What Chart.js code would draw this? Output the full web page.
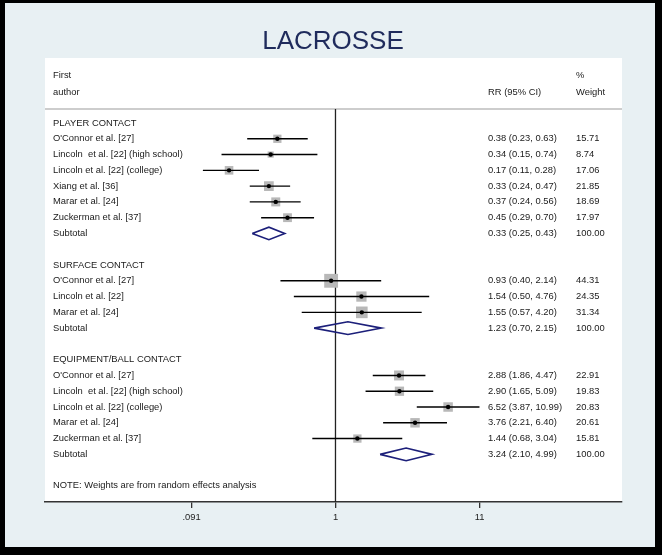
<!DOCTYPE html>
<html>
<head>
<meta charset="utf-8">
<script src="https://cdn.jsdelivr.net/npm/chart.js@4.4.1/dist/chart.umd.min.js"></script>
<style>
  html, body { margin: 0; padding: 0; background: #000; }
  canvas { display: block; }
</style>
</head>
<body>
<canvas id="forest" width="662" height="555"></canvas>
<script>
const titleText = 'LACROSSE';

const playerTitle = 'PLAYER CONTACT';
const playerStudies = ["O'Connor et al. [27]", "Lincoln  et al. [22] (high school)", "Lincoln et al. [22] (college)", "Xiang et al. [36]", "Marar et al. [24]", "Zuckerman et al. [37]"];
const playerRR = [0.38, 0.34, 0.17, 0.33, 0.37, 0.45];
const playerLo = [0.23, 0.15, 0.11, 0.24, 0.24, 0.29];
const playerHi = [0.63, 0.74, 0.28, 0.47, 0.56, 0.70];
const playerWeight = [15.71, 8.74, 17.06, 21.85, 18.69, 17.97];
const playerSubtotal = [0.33, 0.25, 0.43];

const surfaceTitle = 'SURFACE CONTACT';
const surfaceStudies = ["O'Connor et al. [27]", "Lincoln et al. [22]", "Marar et al. [24]"];
const surfaceRR = [0.93, 1.54, 1.55];
const surfaceLo = [0.40, 0.50, 0.57];
const surfaceHi = [2.14, 4.76, 4.20];
const surfaceWeight = [44.31, 24.35, 31.34];
const surfaceSubtotal = [1.23, 0.70, 2.15];

const equipTitle = 'EQUIPMENT/BALL CONTACT';
const equipStudies = ["O'Connor et al. [27]", "Lincoln  et al. [22] (high school)", "Lincoln et al. [22] (college)", "Marar et al. [24]", "Zuckerman et al. [37]"];
const equipRR = [2.88, 2.90, 6.52, 3.76, 1.44];
const equipLo = [1.86, 1.65, 3.87, 2.21, 0.68];
const equipHi = [4.47, 5.09, 10.99, 6.40, 3.04];
const equipWeight = [22.91, 19.83, 20.83, 20.61, 15.81];
const equipSubtotal = [3.24, 2.10, 4.99];

const tickValues = [0.091, 1, 11];
const tickLabels = ['.091', '1', '11'];
const noteText = 'NOTE: Weights are from random effects analysis';

const groups = [
    { title: playerTitle, names: playerStudies, rr: playerRR, lo: playerLo, hi: playerHi, w: playerWeight, sub: playerSubtotal },
    { title: surfaceTitle, names: surfaceStudies, rr: surfaceRR, lo: surfaceLo, hi: surfaceHi, w: surfaceWeight, sub: surfaceSubtotal },
    { title: equipTitle, names: equipStudies, rr: equipRR, lo: equipLo, hi: equipHi, w: equipWeight, sub: equipSubtotal }
];

const yMin = -4.12, yMax = 24.02, sepRow = -0.89;

// rows of text and the datasets
var textRows = [];
var datasets = [];
var boxes = [];
var dots = [];
var row = 0;

function fmt(rr, lo, hi) {
    return rr.toFixed(2) + ' (' + lo.toFixed(2) + ', ' + hi.toFixed(2) + ')';
}

groups.forEach(function (g) {
    textRows.push({ row: row, label: g.title });
    for (let i = 0; i < g.names.length; i++) {
        let r = row + 1 + i;
        textRows.push({ row: r, label: g.names[i], rr: fmt(g.rr[i], g.lo[i], g.hi[i]), w: g.w[i].toFixed(2) });
        datasets.push({
            type: 'scatter', showLine: true, order: 1,
            data: [{ x: g.lo[i], y: r }, { x: g.hi[i], y: r }],
            borderColor: '#000', borderWidth: 1.4, pointRadius: 0
        });
        boxes.push({ x: g.rr[i], y: r, w: g.w[i] });
        dots.push({ x: g.rr[i], y: r });
    }
    let s = row + g.names.length + 1;
    textRows.push({ row: s, label: 'Subtotal', rr: fmt(g.sub[0], g.sub[1], g.sub[2]), w: (100).toFixed(2) });
    datasets.push({
        type: 'scatter', showLine: true, order: 1,
        data: [{ x: g.sub[1], y: s }, { x: g.sub[0], y: s - 0.4 }, { x: g.sub[2], y: s }, { x: g.sub[0], y: s + 0.4 }, { x: g.sub[1], y: s }],
        borderColor: '#1c1f7a', borderWidth: 1.6, pointRadius: 0, tension: 0
    });
    row += g.names.length + 3;
});
textRows.push({ row: row, label: noteText });

datasets.push({
    type: 'scatter', order: 2,
    data: boxes,
    pointStyle: 'rect',
    backgroundColor: '#b8b8b8', borderWidth: 0,
    pointRadius: boxes.map(b => 2.08 * Math.sqrt(b.w) / Math.SQRT2)
});
datasets.push({
    type: 'scatter', order: 0,
    data: dots, backgroundColor: '#000', borderWidth: 0, pointRadius: 2.2
});
datasets.push({
    type: 'scatter', showLine: true, order: 3,
    data: [{ x: 1, y: sepRow }, { x: 1, y: yMax }],
    borderColor: '#222', borderWidth: 1.3, pointRadius: 0
});

const framePlugin = {
    id: 'frame',
    beforeDraw(chart) {
        const c = chart.ctx, a = chart.chartArea;
        c.save();
        c.fillStyle = '#000';
        c.fillRect(0, 0, chart.width, chart.height);
        c.fillStyle = '#e8f0f3';
        c.fillRect(5, 3, 650, 544);
        c.fillStyle = '#fff';
        c.fillRect(a.left, a.top, a.right - a.left, a.bottom - a.top);
        c.fillStyle = '#1f2b5c';
        c.font = '26px "Liberation Sans", Arial, sans-serif';
        c.textAlign = 'center';
        c.textBaseline = 'middle';
        c.fillText(titleText, 333, 42);
        c.restore();
    },
    beforeDatasetsDraw(chart) {
        const c = chart.ctx, a = chart.chartArea, y = chart.scales.y;
        c.save();
        c.strokeStyle = '#bdbdbd';
        c.lineWidth = 1.5;
        c.beginPath();
        c.moveTo(a.left, y.getPixelForValue(sepRow));
        c.lineTo(a.right, y.getPixelForValue(sepRow));
        c.stroke();
        c.restore();
    },
    afterDraw(chart) {
        const c = chart.ctx, a = chart.chartArea, y = chart.scales.y;
        const labelX = a.left + 8, rrX = a.left + 443, wX = a.left + 531;
        c.save();
        c.fillStyle = '#1a1a1a';
        c.font = '9.4px "Liberation Sans", Arial, sans-serif';
        c.textBaseline = 'middle';
        c.textAlign = 'left';
        c.fillText('First', labelX, y.getPixelForValue(-3.04));
        c.fillText('author', labelX, y.getPixelForValue(-1.96));
        c.fillText('RR (95% CI)', rrX, y.getPixelForValue(-1.96));
        c.fillText('%', wX, y.getPixelForValue(-3.04));
        c.fillText('Weight', wX, y.getPixelForValue(-1.96));
        textRows.forEach(function (t) {
            let py = y.getPixelForValue(t.row);
            c.fillText(t.label, labelX, py);
            if (t.rr) c.fillText(t.rr, rrX, py);
            if (t.w) c.fillText(t.w, wX, py);
        });
        c.restore();
    }
};

new Chart(document.getElementById('forest'), {
    type: 'scatter',
    data: { datasets: datasets },
    plugins: [framePlugin],
    options: {
        responsive: false,
        animation: false,
        devicePixelRatio: 1,
        layout: { padding: { left: 45, right: 40, top: 58, bottom: 23 } },
        plugins: { legend: { display: false }, tooltip: { enabled: false }, title: { display: false } },
        scales: {
            x: {
                type: 'logarithmic',
                min: 0.00794,
                max: 117.9,
                afterBuildTicks(scale) { scale.ticks = tickValues.map(v => ({ value: v })); },
                afterFit(scale) { scale.height = 30; },
                ticks: {
                    autoSkip: false, maxRotation: 0, padding: 4,
                    color: '#222',
                    font: { family: '"Liberation Sans", Arial, sans-serif', size: 9.4 },
                    callback: (v, i) => tickLabels[i]
                },
                grid: { display: true, drawOnChartArea: false, drawTicks: true, tickLength: 6, color: '#333', lineWidth: 1.3 },
                border: { display: true, color: '#333', width: 1.5 }
            },
            y: {
                type: 'linear', reverse: true, min: yMin, max: yMax, display: false
            }
        }
    }
});
</script>
</body>
</html>
